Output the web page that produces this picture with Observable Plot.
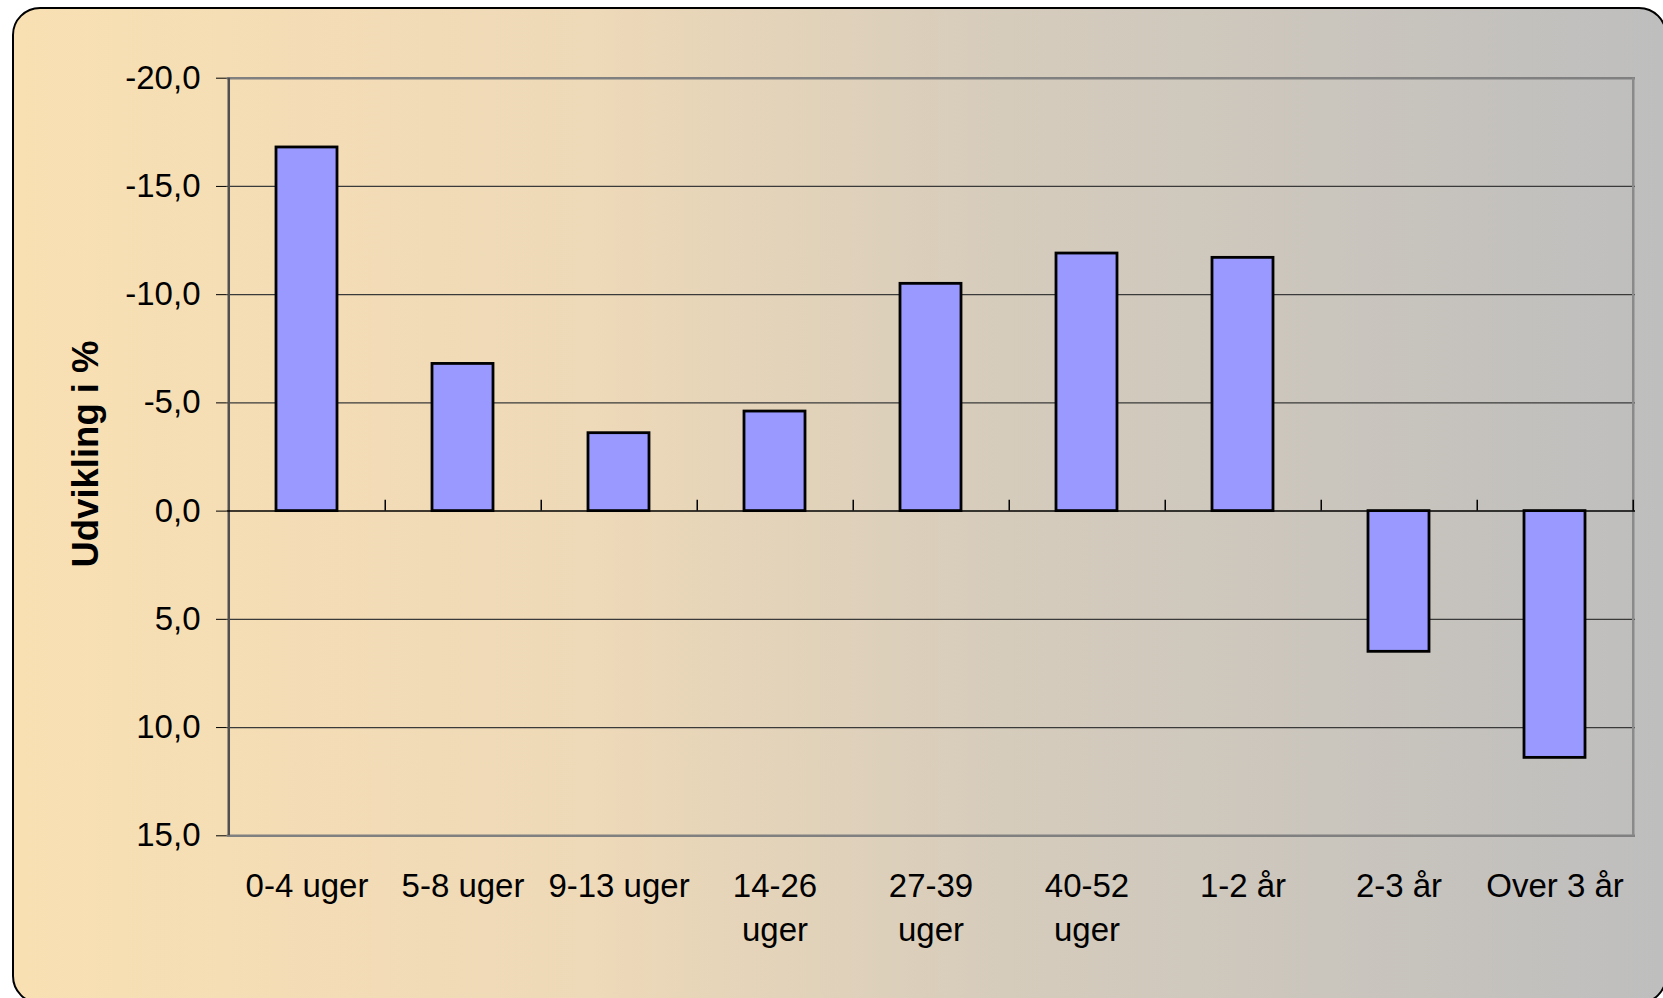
<!DOCTYPE html>
<html>
<head>
<meta charset="utf-8">
<script src="https://cdn.jsdelivr.net/npm/d3@7"></script>
<script src="https://cdn.jsdelivr.net/npm/@observablehq/plot@0.6"></script>
<style>
  html, body { margin: 0; padding: 0; background: #fff; }
  #wrap { position: relative; width: 1663px; height: 998px; overflow: hidden; }
  #bg {
    position: absolute; left: 12px; top: 7px; width: 1655px; height: 997px;
    box-sizing: border-box; border: 2.5px solid #000; border-radius: 28px;
    background: linear-gradient(to right, #F9E0B3 0%, #EED9B8 35%, #D6CCBC 60%, #BEBEBE 100%);
  }
  #chart { position: absolute; left: 0; top: 0; }
</style>
</head>
<body>
<div id="wrap"><div id="bg"></div><div id="chart"></div></div>
<script>
const categories = ["0-4 uger", "5-8 uger", "9-13 uger", "14-26 uger", "27-39 uger", "40-52 uger", "1-2 år", "2-3 år", "Over 3 år"];
const values = [-16.8, -6.8, -3.6, -4.6, -10.5, -11.9, -11.7, 6.5, 11.4];
const xTickLabels = ["0-4 uger", "5-8 uger", "9-13 uger", "14-26\nuger", "27-39\nuger", "40-52\nuger", "1-2 år", "2-3 år", "Over 3 år"];
const yTicks = [-20, -15, -10, -5, 0, 5, 10, 15];
const gridValues = [-15, -10, -5, 5, 10];
const yLabel = "Udvikling i %";

const W = 1663, H = 998;
const ML = 226.7, MR = 28, MT = 77.7, MB = 162.7;
const step = (W - ML - MR) / categories.length;
const fontFamily = "'Liberation Sans', Arial, sans-serif";

const data = categories.map((c, i) => ({c, v: values[i]}));

const chart = Plot.plot({
  width: W, height: H,
  marginLeft: ML, marginRight: MR, marginTop: MT, marginBottom: MB,
  style: {background: "transparent", fontFamily, fontSize: "33px", color: "black", overflow: "visible"},
  x: {domain: categories, paddingInner: 0.61, paddingOuter: 0.305},
  y: {domain: [-20, 15], reverse: true},
  marks: [
    Plot.ruleY(gridValues, {stroke: "#3a3a3a", strokeWidth: 1.3}),
    Plot.ruleY([-20, 15], {stroke: "#808080", strokeWidth: 2.5}),
    Plot.ruleX([categories[0]], {dx: -step / 2, stroke: "#505050", strokeWidth: 2.5}),
    Plot.ruleX([categories[categories.length - 1]], {dx: step / 2, stroke: "#8a8a8a", strokeWidth: 2.5}),
    Plot.ruleY([0], {stroke: "#000", strokeWidth: 1.5}),
    Plot.ruleX(categories, {dx: step / 2, y1: 0, y2: -0.5, stroke: "#000", strokeWidth: 1.5}),
    Plot.barY(data, {x: "c", y1: 0, y2: "v", fill: "#9999FF", stroke: "#000", strokeWidth: 2.8}),
    Plot.axisY({ticks: yTicks, tickFormat: d => d.toFixed(1).replace(".", ","), tickSize: 10.7, tickPadding: 16,
      label: null, stroke: "#000", fill: "#000", fontSize: 33}),
    Plot.axisX({tickSize: 0, tickPadding: 29.5, tickFormat: d => xTickLabels[categories.indexOf(d)],
      label: null, fill: "#000", fontSize: 33, lineHeight: 1.35}),
    Plot.text([yLabel], {frameAnchor: "left", textAnchor: "middle", dx: -141, dy: -3, rotate: -90, text: d => d,
      fontWeight: "bold", fontSize: 36.5, fill: "#000"})
  ]
});
document.getElementById("chart").appendChild(chart);
</script>
</body>
</html>
